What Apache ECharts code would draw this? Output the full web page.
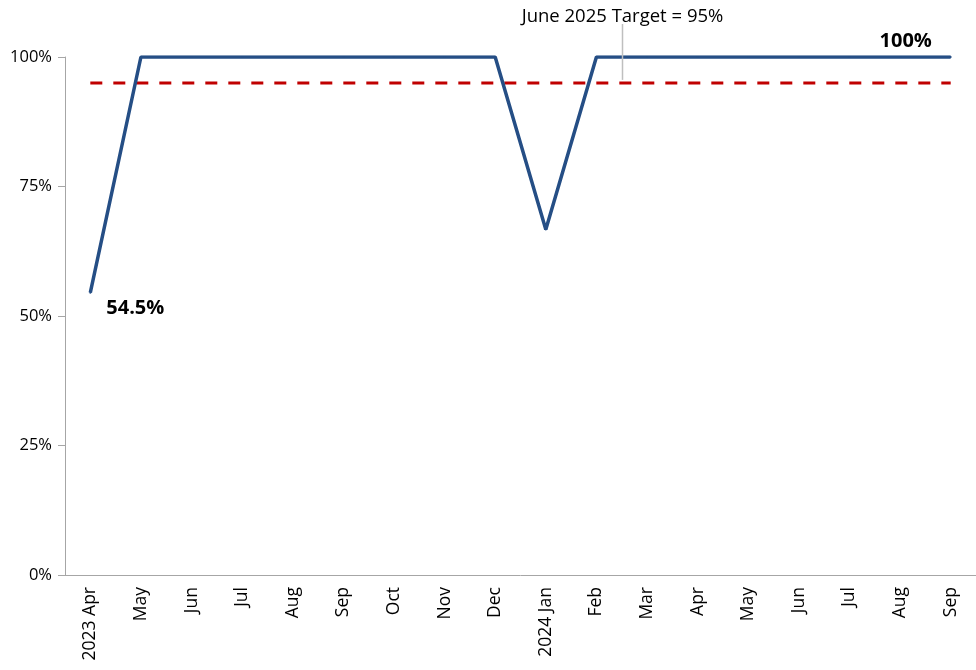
<!DOCTYPE html>
<html>
<head>
<meta charset="utf-8">
<script src="https://cdn.jsdelivr.net/npm/echarts@6/dist/echarts.min.js"></script>
<style>
  html, body { margin: 0; padding: 0; background: #fff; }
  #chart { width: 976px; height: 670px; }
</style>
</head>
<body>
<div id="chart"></div>
<script>
const months = ['2023 Apr', 'May', 'Jun', 'Jul', 'Aug', 'Sep', 'Oct', 'Nov', 'Dec',
  '2024 Jan', 'Feb', 'Mar', 'Apr', 'May', 'Jun', 'Jul', 'Aug', 'Sep'];
const compliance = [54.5, 100, 100, 100, 100, 100, 100, 100, 100,
  66.7, 100, 100, 100, 100, 100, 100, 100, 100];
const target = 95;
const targetText = 'June 2025 Target = 95%';
const yTicks = [0, 25, 50, 75, 100];

const font = "'Open Sans', sans-serif";
const chart = echarts.init(document.getElementById('chart'));

// label only the first and last points
const lineData = compliance.map((v, i) => {
  if (i === 0) {
    return { value: v, label: { show: true, position: 'bottom', offset: [45, 0], formatter: v + '%' } };
  }
  if (i === compliance.length - 1) {
    return { value: v, label: { show: true, position: 'top', offset: [-45, 0], formatter: v + '%' } };
  }
  return v;
});

chart.setOption({
  animation: false,
  grid: { left: 65, right: -4, top: 57, bottom: 95 },
  xAxis: {
    type: 'category',
    data: months,
    boundaryGap: true,
    axisLine: { lineStyle: { color: '#a6a6a6', width: 1 } },
    axisTick: { show: false },
    axisLabel: { rotate: 90, color: '#000', fontFamily: font, fontSize: 17.5, margin: 12, interval: 0 }
  },
  yAxis: {
    type: 'value',
    min: yTicks[0],
    max: yTicks[yTicks.length - 1],
    interval: 25,
    splitLine: { show: false },
    axisLine: { show: true, lineStyle: { color: '#a6a6a6', width: 1 } },
    axisTick: { show: true, length: 7, lineStyle: { color: '#a6a6a6' } },
    axisLabel: { color: '#000', fontFamily: font, fontSize: 16.5, margin: 13, formatter: '{value}%' }
  },
  series: [
    {
      name: 'Target',
      type: 'line',
      data: months.map(() => target),
      symbol: 'none',
      lineStyle: { color: '#c00000', width: 3, type: [12, 11] },
      z: 2
    },
    {
      name: 'Compliance',
      type: 'line',
      data: lineData,
      symbol: 'circle',
      symbolSize: 2,
      showSymbol: true,
      itemStyle: { color: '#254e85' },
      lineStyle: { color: '#254e85', width: 3.5 },
      label: { color: '#000', fontFamily: font, fontSize: 20, fontWeight: 'bold' },
      z: 3
    }
  ]
});

// target annotation with a leader line between Feb and Mar
const pFeb = chart.convertToPixel({ gridIndex: 0 }, [10, target]);
const pMar = chart.convertToPixel({ gridIndex: 0 }, [11, target]);
const lx = Math.round((pFeb[0] + pMar[0]) / 2) + 0.5;
chart.setOption({
  graphic: [
    {
      type: 'line',
      shape: { x1: lx, y1: 24, x2: lx, y2: pFeb[1] - 3 },
      style: { stroke: '#bfbfbf', lineWidth: 1.5 },
      z: 10
    },
    {
      type: 'text',
      x: lx,
      y: 17,
      style: { text: targetText, fill: '#000', font: '18.5px ' + font, align: 'center', verticalAlign: 'middle' },
      z: 11
    }
  ]
});
</script>
</body>
</html>
